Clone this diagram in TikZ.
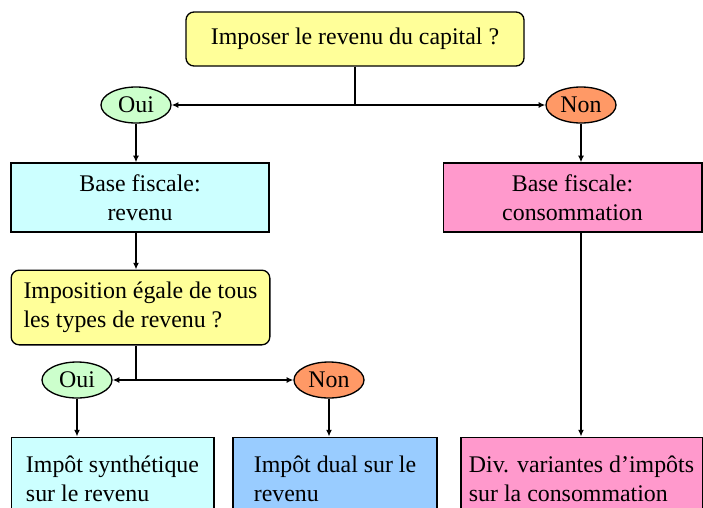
\documentclass[tikz,border=0pt]{standalone}
\usepackage{fontspec}
\setmainfont{Liberation Serif}
\usepackage{xcolor}
\usetikzlibrary{shapes.geometric, arrows.meta, positioning, calc}
\definecolor{questionyellow}{HTML}{FFFF99}
\definecolor{ouigreen}{HTML}{CCFFCC}
\definecolor{nonorange}{HTML}{FF9966}
\definecolor{revenucyan}{HTML}{CCFFFF}
\definecolor{consopink}{HTML}{FF99CC}
\definecolor{dualblue}{HTML}{99CCFF}

\begin{document}
\begin{tikzpicture}[
  x=0.75pt, y=-0.75pt,
  every node/.style={font=\fontsize{17.9pt}{21.5pt}\selectfont, line width=1pt},
  question/.style={rectangle, draw, fill=questionyellow, rounded corners=6pt, align=left},
  answer/.style={ellipse, draw, minimum width=52.5pt, minimum height=27pt, inner sep=0pt},
  result/.style={rectangle, draw, align=left},
  arrow/.style={-{Latex[length=5pt, width=4.5pt]}, line width=1pt}
]
  \useasboundingbox (0,0) rectangle (703,507);
  \clip (0,0) rectangle (703,507);

  \node[question, align=center, minimum width=253.5pt, minimum height=40.5pt] (capital) at (355,39) {Imposer le revenu du capital ?};
  \node[answer, fill=ouigreen] (ouiA) at (136,105) {Oui};
  \node[answer, fill=nonorange] (nonA) at (581,105) {Non};
  \node[result, align=center, fill=revenucyan, minimum width=193.5pt, minimum height=51.75pt] (baserev) at (140,197.5) {Base fiscale:\\revenu};
  \node[result, align=center, fill=consopink, minimum width=194pt, minimum height=51.75pt] (baseconso) at (572.5,197.5) {Base fiscale:\\consommation};
  \node[question, minimum width=194pt, minimum height=56pt] (egal) at (140.5,307.5) {Imposition égale de tous\\les types de revenu ?};
  \node[answer, fill=ouigreen] (ouiB) at (77,380) {Oui};
  \node[answer, fill=nonorange] (nonB) at (329,380) {Non};
  \node[result, fill=revenucyan, minimum width=152pt, minimum height=62pt] (synth) at (112.5,478.5) {Impôt synthétique\\sur le revenu};
  \node[result, fill=dualblue, minimum width=153pt, minimum height=62pt] (dual) at (335,478.5) {Impôt dual sur le\\revenu};
  \node[result, fill=consopink, minimum width=181pt, minimum height=62pt] (variantes) at (581.5,478.5) {Div. variantes d’impôts\\sur la consommation};

  \draw[arrow] (capital.south) |- (ouiA.east);
  \draw[arrow] (capital.south) |- (nonA.west);
  \draw[arrow] (ouiA.south) -- (ouiA.south |- baserev.north);
  \draw[arrow] (nonA.south) -- (nonA.south |- baseconso.north);
  \draw[arrow] (ouiA.south |- baserev.south) -- (ouiA.south |- egal.north);
  \draw[arrow] (ouiA.south |- egal.south) |- (ouiB.east);
  \draw[arrow] (ouiA.south |- egal.south) |- (nonB.west);
  \draw[arrow] (ouiB.south) -- (ouiB.south |- synth.north);
  \draw[arrow] (nonB.south) -- (nonB.south |- dual.north);
  \draw[arrow] (nonA.south |- baseconso.south) -- (nonA.south |- variantes.north);
\end{tikzpicture}
\end{document}
